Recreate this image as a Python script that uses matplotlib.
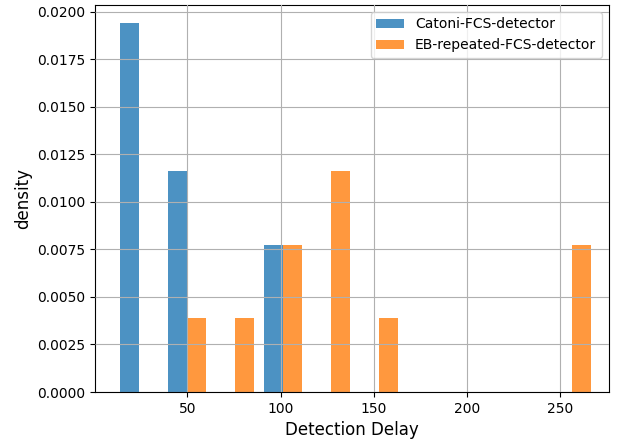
import numpy as np
import matplotlib
matplotlib.use("Agg")
import matplotlib.pyplot as plt

# detection delays for the two detectors
catoni_delays = [11, 15, 18, 22, 30, 40, 45, 55, 95, 100]
eb_delays = [52, 75, 100, 105, 120, 125, 130, 150, 255, 269]
labels = ["Catoni-FCS-detector", "EB-repeated-FCS-detector"]

fig = plt.figure(figsize=(6.18, 4.45), dpi=100)
ax = fig.add_subplot(111)
fig.subplots_adjust(left=0.154, right=0.985, top=0.989, bottom=0.119)

ax.hist([catoni_delays, eb_delays], bins=10, density=True, alpha=0.8, label=labels)
ax.grid(True)
ax.set_axisbelow(False)
ax.set_xlim(0.5, 276)
ax.set_xlabel("Detection Delay", fontsize=12)
ax.set_ylabel("density", fontsize=12)
ax.set_yticks(np.arange(0, 0.0201, 0.0025))
ax.legend(loc="upper right")

plt.savefig("out.png", dpi=100)
